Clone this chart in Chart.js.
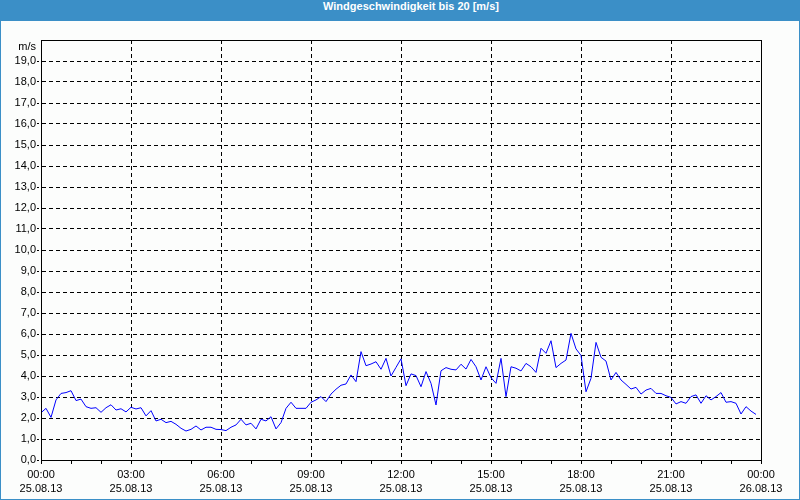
<!DOCTYPE html>
<html>
<head>
<meta charset="utf-8">
<script src="https://cdn.jsdelivr.net/npm/chart.js@4/dist/chart.umd.min.js"></script>
<style>
  html, body { margin: 0; padding: 0; background: #ffffff; }
  #frame { position: relative; width: 800px; height: 500px; background: #3b8fc7; overflow: hidden; }
  #title { position: absolute; left: 0; top: 0; width: 800px; height: 21px; line-height: 20px;
           color: #ffffff; font: bold 11px "Liberation Sans", Arial, sans-serif; text-align: center;
           padding-left: 22px; box-sizing: border-box; }
  #inner { position: absolute; left: 1px; top: 21px; width: 798px; height: 478px; background: #fcfdfc; }
  canvas { display: block; }
</style>
</head>
<body>
<div id="frame">
  <div id="title">Windgeschwindigkeit bis 20 [m/s]</div>
  <div id="inner"><canvas id="c" width="798" height="478"></canvas></div>
</div>
<script>
// Wind speed in m/s, one value every 10 minutes from 25.08.13 00:00 to 23:50
const windSpeed = [
  2.25, 2.46, 2.03, 2.86, 3.17, 3.21, 3.30, 2.83, 2.90, 2.54, 2.46, 2.49, 2.27, 2.49, 2.63, 2.38, 2.44, 2.29,
  2.51, 2.43, 2.49, 2.10, 2.35, 1.86, 1.94, 1.78, 1.84, 1.70, 1.51, 1.38, 1.46, 1.62, 1.43, 1.56, 1.56, 1.46,
  1.45, 1.40, 1.56, 1.67, 1.94, 1.67, 1.75, 1.48, 1.94, 1.86, 2.06, 1.48, 1.78, 2.46, 2.75, 2.46, 2.46, 2.46,
  2.75, 2.86, 3.02, 2.78, 3.14, 3.37, 3.56, 3.62, 4.05, 3.73, 5.16, 4.49, 4.57, 4.68, 4.32, 4.84, 4.00, 4.41,
  4.82, 3.54, 4.10, 4.02, 3.49, 4.21, 3.65, 2.62, 4.25, 4.40, 4.32, 4.29, 4.56, 4.33, 4.79, 4.44, 3.81, 4.44,
  3.92, 3.65, 4.84, 3.02, 4.44, 4.37, 4.24, 4.60, 4.44, 4.17, 5.32, 5.08, 5.68, 4.40, 4.60, 4.76, 6.03, 5.29,
  4.98, 3.25, 3.89, 5.60, 4.89, 4.71, 3.81, 4.17, 3.81, 3.60, 3.38, 3.46, 3.14, 3.33, 3.41, 3.17, 3.17, 3.06,
  2.98, 2.67, 2.78, 2.70, 3.02, 3.10, 2.70, 3.06, 2.86, 3.02, 3.21, 2.75, 2.78, 2.70, 2.19, 2.54, 2.33, 2.17
];
const sampleStepHours = 1 / 6;          // 10-minute readings
const tickTimes = ['00:00', '03:00', '06:00', '09:00', '12:00', '15:00', '18:00', '21:00', '00:00'];
const tickDates = ['25.08.13', '25.08.13', '25.08.13', '25.08.13', '25.08.13', '25.08.13', '25.08.13', '25.08.13', '26.08.13'];
const yUnit = 'm/s';
const yMin = 0, yMax = 20, xMin = 0, xMax = 24;

const points = windSpeed.map((v, i) => ({ x: i * sampleStepHours, y: v }));
const font = { family: '"Liberation Sans", Arial, sans-serif', size: 11, lineHeight: 1.3 };

const frameRect = {
  id: 'frameRect',
  afterDatasetsDraw(chart) {
    const a = chart.chartArea, ctx = chart.ctx;
    ctx.save();
    ctx.strokeStyle = '#000';
    ctx.lineWidth = 1;
    ctx.setLineDash([]);
    ctx.strokeRect(Math.round(a.left) + 0.5, Math.round(a.top) + 0.5,
                   Math.round(a.right - a.left), Math.round(a.bottom - a.top));
    ctx.restore();
  }
};

new Chart(document.getElementById('c'), {
  type: 'line',
  data: {
    datasets: [{
      data: points,
      borderColor: '#0000ff',
      borderWidth: 1,
      pointRadius: 0,
      tension: 0,
      fill: false
    }]
  },
  options: {
    responsive: false,
    animation: false,
    devicePixelRatio: 1,
    layout: { padding: { top: 19, right: 38, left: 0, bottom: 0 } },
    plugins: { legend: { display: false }, tooltip: { enabled: false }, title: { display: false } },
    scales: {
      x: {
        type: 'linear', min: xMin, max: xMax,
        afterFit(s) { s.height = 39; },
        border: { display: true, color: '#000', width: 1, dash: [4, 3] },
        grid: {
          drawOnChartArea: true,
          color: c => (c.tick.value % 3 === 0 && c.tick.value !== xMin && c.tick.value !== xMax) ? '#000' : 'rgba(0,0,0,0)',
          tickColor: '#000',
          tickLength: 4,
          lineWidth: 1
        },
        ticks: {
          stepSize: 1, autoSkip: false, maxRotation: 0, minRotation: 0,
          color: '#000', font: font, padding: 4,
          callback: v => (v % 3 === 0) ? [tickTimes[v / 3], tickDates[v / 3]] : ''
        }
      },
      y: {
        type: 'linear', min: yMin, max: yMax,
        afterFit(s) { s.width = 40; },
        border: { display: true, color: '#000', width: 1, dash: [4, 3] },
        grid: {
          color: c => (c.tick.value === yMin || c.tick.value === yMax) ? 'rgba(0,0,0,0)' : '#000',
          tickColor: c => (c.tick.value === yMax) ? 'rgba(0,0,0,0)' : '#000',
          tickLength: 4,
          tickBorderDash: [2, 2],
          lineWidth: 1
        },
        ticks: {
          stepSize: 1, autoSkip: false, color: '#000', padding: 1,
          font: { family: '"Liberation Sans", Arial, sans-serif', size: 11, lineHeight: 1.2 },
          callback: v => v === yMax ? ['', yUnit] : v.toFixed(1).replace('.', ',')
        }
      }
    }
  },
  plugins: [frameRect]
});
</script>
</body>
</html>
